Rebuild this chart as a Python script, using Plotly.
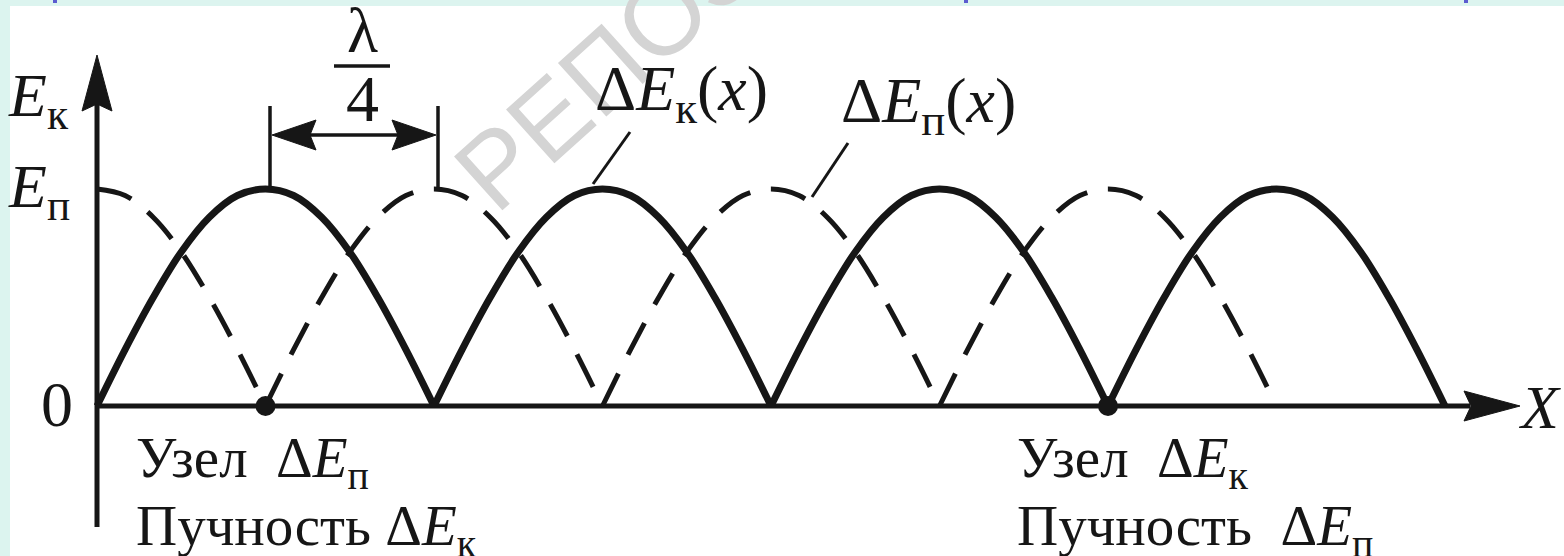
import plotly.graph_objects as go

# ---- data -------------------------------------------------------------
# Shape of one half-wave hump: position inside the hump (0..1) and relative energy
hump_pos = [0, 1/12, 2/12, 3/12, 4/12, 5/12, 6/12, 7/12, 8/12, 9/12, 10/12, 11/12, 1]
hump_level = [0, 0.26, 0.50, 0.71, 0.87, 0.97, 1.00, 0.97, 0.87, 0.71, 0.50, 0.26, 0]

# Zeros of ΔEк(x) and ΔEп(x) along X, in units of λ/4
kin_nodes = [0, 2, 4, 6, 8]
pot_nodes = [-1, 1, 3, 5, 7]
x_start = 0

# Nodes marked with dots on the X axis
dot_x = [1, 6]
dot_y = [0, 0]

# ---- page geometry ----------------------------------------------------
W, H = 1564, 556
X0, UX = 97, 168.5      # pixel of X = 0 and pixels per λ/4
Y0, UY = 406, 217       # pixel of E = 0 and pixels per Eп
INK = "#161616"
SERIF = "Liberation Serif, Times New Roman, serif"


def dx(p):
    return (p - X0) / UX


def dy(p):
    return (Y0 - p) / UY


def humps(nodes):
    xs, ys = [], []
    for a, b in zip(nodes[:-1], nodes[1:]):
        for p, lv in zip(hump_pos, hump_level):
            x = a + p * (b - a)
            if x >= x_start:
                xs.append(x)
                ys.append(lv)
        xs.append(None)
        ys.append(None)
    return xs, ys


kx, ky = humps(kin_nodes)
px_, py_ = humps(pot_nodes)

fig = go.Figure()
fig.add_trace(go.Scatter(
    x=px_, y=py_, mode="lines", hoverinfo="skip", connectgaps=False,
    line=dict(color=INK, width=5, dash="36px,21px", shape="spline", smoothing=1)))
fig.add_trace(go.Scatter(
    x=kx, y=ky, mode="lines", hoverinfo="skip", connectgaps=False,
    line=dict(color=INK, width=7, shape="spline", smoothing=1)))
fig.add_trace(go.Scatter(
    x=dot_x, y=dot_y, mode="markers", hoverinfo="skip",
    marker=dict(size=20, color=INK)))

shapes = []


def seg(x0, y0, x1, y1, w):
    shapes.append(dict(type="line", xref="x", yref="y",
                       x0=dx(x0), y0=dy(y0), x1=dx(x1), y1=dy(y1),
                       line=dict(color=INK, width=w)))


def head(pts):
    d = "M " + " L ".join(f"{dx(a)},{dy(b)}" for a, b in pts) + " Z"
    shapes.append(dict(type="path", xref="x", yref="y", path=d,
                       fillcolor=INK, line=dict(color=INK, width=1)))


# page frame strips
shapes.append(dict(type="rect", xref="paper", yref="paper", x0=0, x1=1,
                   y0=1 - 6 / H, y1=1, fillcolor="#dcf4ef", line=dict(width=0),
                   layer="below"))
shapes.append(dict(type="rect", xref="paper", yref="paper", x0=0, x1=10 / W,
                   y0=0, y1=1, fillcolor="#dcf4ef", line=dict(width=0),
                   layer="below"))
for bx in [53, 689, 964, 1464]:
    shapes.append(dict(type="rect", xref="paper", yref="paper",
                       x0=bx / W, x1=(bx + 4) / W, y0=1 - 3 / H, y1=1,
                       fillcolor="#5b5bd0", line=dict(width=0)))

# axes with arrows
seg(X0, 406, 1470, 406, 5)
head([(1520, 406), (1464, 391), (1471, 406), (1464, 421)])
seg(97, 527, 97, 100, 5)
head([(97, 55), (82, 111), (97, 104), (112, 111)])

# λ/4 dimension
seg(270, 106, 270, 190, 3.5)
seg(438, 106, 438, 188, 3.5)
seg(300, 135, 410, 135, 3.5)
head([(272, 135), (316, 120), (310, 135), (316, 150)])
head([(436, 135), (392, 120), (398, 135), (392, 150)])
seg(334, 66, 390, 66, 3.5)

# leader lines to curve labels
seg(630, 132, 593, 184, 3)
seg(848, 143, 812, 197, 3)

fig.update_layout(shapes=shapes)


def label(text, x, y, size=57, xanchor="left", yanchor="middle", family=SERIF,
          color=INK, angle=0):
    fig.add_annotation(x=x / W, y=1 - y / H, xref="paper", yref="paper",
                       text=text, showarrow=False, xanchor=xanchor,
                       yanchor=yanchor, textangle=angle,
                       font=dict(family=family, size=size, color=color))


# watermark
label("РЕПОЗ", 605, 68, size=105, xanchor="center",
      family="Liberation Sans, Arial, sans-serif", color="#d4d4d4", angle=-42)

label("<i>E</i><sub>к</sub>", 6, 99, size=62)
label("<i>E</i><sub>п</sub>", 6, 190, size=62)
label("0", 57, 404, size=64, xanchor="center")
label("λ", 362, 31, size=64, xanchor="center")
label("4", 362, 98, size=66, xanchor="center")
label("Δ<i>E</i><sub>к</sub>(<i>x</i>)", 593, 93, size=64)
label("Δ<i>E</i><sub>п</sub>(<i>x</i>)", 839, 105, size=64)
label("<i>X</i>", 1516, 407, size=62)
label("Узел\u00a0\u00a0Δ<i>E</i><sub>п</sub>", 134, 462)
label("Пучность Δ<i>E</i><sub>к</sub>", 134, 530)
label("Узел\u00a0\u00a0Δ<i>E</i><sub>к</sub>", 1015, 462)
label("Пучность\u00a0\u00a0Δ<i>E</i><sub>п</sub>", 1015, 530)

fig.update_layout(
    width=W, height=H,
    margin=dict(l=0, r=0, t=0, b=0),
    paper_bgcolor="white", plot_bgcolor="white",
    showlegend=False,
    xaxis=dict(visible=False, range=[dx(0), dx(W)], fixedrange=True),
    yaxis=dict(visible=False, range=[dy(H), dy(0)], fixedrange=True),
)

fig.write_html("out.html")
